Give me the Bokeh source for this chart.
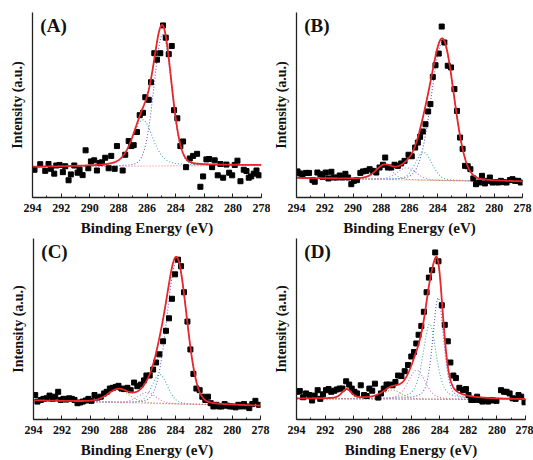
import numpy as np
from bokeh.plotting import figure
from bokeh.layouts import row, column
from bokeh.models import Range1d, SingleIntervalTicker, FixedTicker, Label
from bokeh.embed import file_html
from bokeh.resources import INLINE

# ---------------- data (binding energy in eV, intensity in a.u. 0-100) -------------
a_be = [293.86, 293.46, 293.11, 292.88, 292.72, 292.48, 292.34, 292.11, 291.88, 291.71,
        291.48, 291.32, 291.08, 290.85, 290.71, 290.50, 290.29, 290.10, 289.92, 289.69,
        289.50, 289.31, 289.15, 288.92, 288.68, 288.50, 288.26, 288.10, 287.70, 287.52,
        287.28, 287.10, 286.93, 286.70, 286.51, 286.28, 286.12, 285.88, 285.72, 285.49,
        285.30, 285.07, 284.88, 284.69, 284.48, 284.27, 284.11, 283.88, 283.67, 283.48,
        283.27, 283.01, 282.78, 282.50, 282.27, 282.08, 281.85, 281.66, 281.45, 281.27,
        281.06, 280.87, 280.68, 280.45, 280.26, 280.05, 279.87, 279.68, 279.47, 279.24,
        279.05, 278.89, 278.72, 278.54, 278.35, 278.19]
a_int = [15.0, 18.0, 14.4, 18.1, 15.5, 12.9, 17.3, 17.6, 13.7, 16.9,
         9.3, 12.5, 17.3, 13.4, 15.1, 12.1, 25.5, 15.8, 19.5, 20.1,
         14.6, 18.7, 19.0, 21.5, 15.8, 22.5, 15.5, 27.8, 14.6, 23.1,
         30.5, 27.8, 28.3, 35.4, 44.5, 45.8, 54.2, 52.8, 62.3, 78.0,
         74.5, 78.0, 93.0, 86.4, 77.5, 81.9, 47.2, 42.8, 27.8, 30.3,
         16.4, 21.1, 22.5, 23.6, 5.8, 11.4, 20.6, 20.8, 16.4, 20.1,
         12.0, 18.1, 10.7, 17.8, 13.4, 12.0, 17.6, 19.9, 8.8, 15.0,
         14.3, 10.7, 11.4, 12.9, 14.6, 12.0]

b_be = [293.93, 293.76, 293.58, 293.34, 293.11, 292.87, 292.71, 292.52, 292.31, 292.16,
        291.93, 291.74, 291.53, 291.36, 291.13, 290.94, 290.75, 290.54, 290.35, 290.12,
        289.93, 289.72, 289.48, 289.29, 289.06, 288.82, 288.59, 288.35, 288.12, 287.88,
        287.72, 287.53, 287.29, 287.06, 286.82, 286.59, 286.35, 286.07, 285.84, 285.60,
        285.41, 285.25, 285.06, 284.87, 284.68, 284.52, 284.35, 284.16, 283.93, 283.72,
        283.53, 283.29, 283.06, 282.82, 282.64, 282.42, 282.24, 282.07, 281.88, 281.69,
        281.48, 281.29, 281.06, 280.87, 280.66, 280.47, 280.31, 280.12, 279.93, 279.72,
        279.53, 279.34, 279.13, 278.89, 278.71, 278.52, 278.31, 278.12]
b_int = [14.1, 13.0, 11.9, 13.3, 13.3, 9.4, 8.5, 13.5, 12.6, 11.2,
         13.5, 10.3, 13.9, 10.8, 10.8, 11.9, 10.8, 12.8, 10.8, 7.2,
         9.0, 9.4, 13.3, 14.1, 14.4, 15.3, 14.4, 13.5, 16.2, 17.7,
         21.6, 16.2, 16.2, 17.7, 17.1, 18.4, 19.8, 23.1, 22.3, 27.0,
         29.7, 32.8, 35.7, 39.6, 46.5, 50.5, 65.2, 71.5, 77.8, 92.4,
         83.8, 71.2, 70.3, 58.6, 46.8, 32.4, 26.3, 17.1, 16.9, 15.3,
         10.3, 7.2, 8.1, 11.7, 7.6, 9.0, 10.8, 8.1, 8.3, 8.1,
         9.0, 8.3, 8.1, 9.4, 9.9, 9.0, 9.0, 8.1]

c_be = [293.88, 293.72, 293.48, 293.30, 293.08, 292.87, 292.66, 292.47, 292.26, 292.08,
        291.89, 291.68, 291.49, 291.30, 291.11, 290.90, 290.71, 290.53, 290.31, 290.13,
        289.92, 289.70, 289.49, 289.26, 289.02, 288.84, 288.62, 288.41, 288.20, 288.01,
        287.80, 287.62, 287.38, 287.15, 286.91, 286.68, 286.44, 286.21, 286.04, 285.81,
        285.57, 285.36, 285.13, 284.87, 284.66, 284.45, 284.24, 284.02, 283.81, 283.60,
        283.39, 283.15, 282.94, 282.73, 282.52, 282.29, 282.10, 281.89, 281.70, 281.51,
        281.32, 281.11, 280.92, 280.74, 280.53, 280.34, 280.15, 279.94, 279.75, 279.56,
        279.35, 279.16, 278.98, 278.79, 278.58, 278.36, 278.10]
c_int = [13.5, 9.9, 10.8, 11.4, 11.7, 13.2, 11.4, 12.6, 15.3, 10.8,
         11.4, 11.0, 11.7, 11.4, 10.8, 9.0, 9.4, 9.9, 10.5, 11.4,
         10.3, 13.5, 12.1, 12.6, 14.4, 15.3, 17.1, 17.5, 18.0, 18.6,
         17.1, 16.8, 17.5, 16.2, 20.4, 18.4, 19.3, 21.6, 24.3, 24.3,
         27.6, 31.5, 36.0, 43.2, 49.0, 55.9, 66.7, 80.2, 88.3, 84.7,
         70.3, 54.1, 38.7, 25.2, 17.1, 16.2, 12.6, 10.8, 12.6, 9.0,
         7.2, 8.1, 7.2, 7.2, 8.5, 7.6, 7.2, 7.2, 6.7, 8.1,
         7.2, 8.5, 7.2, 6.3, 8.5, 10.3, 8.1]

d_be = [293.95, 293.77, 293.54, 293.33, 293.10, 292.91, 292.73, 292.52, 292.34, 292.15,
        291.94, 291.76, 291.57, 291.36, 291.18, 290.99, 290.79, 290.53, 290.32, 290.14,
        289.95, 289.77, 289.51, 289.28, 289.10, 288.91, 288.71, 288.52, 288.29, 288.10,
        287.90, 287.71, 287.48, 287.29, 287.09, 286.90, 286.67, 286.44, 286.21, 285.98,
        285.79, 285.63, 285.47, 285.28, 285.10, 284.91, 284.75, 284.52, 284.31, 284.08,
        283.85, 283.64, 283.43, 283.25, 283.04, 282.86, 282.62, 282.37, 282.16, 281.98,
        281.79, 281.58, 281.38, 281.21, 281.01, 280.82, 280.61, 280.43, 280.24, 280.03,
        279.71, 279.50, 279.32, 279.11, 278.90, 278.69, 278.49, 278.30, 278.07]
d_int = [15.3, 15.7, 12.3, 14.4, 13.5, 10.5, 13.2, 16.2, 11.4, 13.9,
         16.2, 16.8, 15.3, 15.9, 16.6, 17.1, 17.1, 21.1, 19.3, 17.1,
         15.3, 14.4, 18.9, 13.5, 13.0, 17.1, 15.9, 19.8, 12.1, 14.4,
         17.1, 19.3, 19.3, 18.9, 20.7, 24.3, 24.0, 26.7, 30.1, 34.8,
         37.3, 42.0, 46.8, 51.7, 59.5, 70.3, 78.4, 82.5, 92.3, 87.4,
         63.1, 52.3, 43.2, 31.5, 24.3, 22.9, 17.5, 16.2, 16.8, 13.5,
         10.8, 10.8, 12.6, 10.8, 9.9, 10.3, 9.9, 10.8, 10.5, 10.3,
         16.2, 15.3, 15.3, 14.4, 11.7, 11.4, 13.5, 12.6, 9.5]

# fitted peak components: centre (eV), height, FWHM (eV), Lorentz fraction
a_peaks = dict(center=[284.9, 286.3], height=[71, 25], fwhm=[1.45, 1.7], lor=[0.1, 0.4])
b_peaks = dict(center=[283.65, 285.0, 286.2, 287.8], height=[75, 15, 6.5, 7], fwhm=[1.9, 1.4, 1.6, 1.4], lor=[0.1, 0.2, 0.2, 0.2])
c_peaks = dict(center=[283.9, 285.1, 286.0, 288.0], height=[79, 16, 6, 7], fwhm=[1.65, 1.3, 1.5, 1.8], lor=[0.1, 0.2, 0.2, 0.2])
d_peaks = dict(center=[284.1, 284.7, 285.6, 287.3, 290.5], height=[56, 41.5, 16, 5, 5], fwhm=[0.9, 1.1, 1.4, 1.5, 0.8], lor=[0.4, 0.5, 0.3, 0.3, 0.3])
# linear background (value at 294 eV, value at 278 eV)
a_bg = [16.5, 17.5]
b_bg = [10.5, 8.5]
c_bg = [10.5, 7.5]
d_bg = [11.5, 11.0]

panel_labels = ["(A)", "(B)", "(C)", "(D)"]
x_tick_interval = 2

comp_colors = ["#5b5bd0", "#3fb0b0", "#d26ed2", "#9c9c3a", "#9a7fb0"]
bg_color = "#f07a7a"
fit_color = "#e8262b"
FONT = "Liberation Serif, serif"

def pv(x, c, h, w, eta):
    t = (x - c) / w
    g = np.exp(-4 * np.log(2) * t * t)
    l = 1.0 / (1.0 + 4 * t * t)
    return h * (eta * l + (1 - eta) * g)

def make_panel(be, inten, peaks, bg, label, width, height, mb_left, mb_top, mb_bottom, mb_right):
    p = figure(width=width, height=height, output_backend="svg", toolbar_location=None,
               x_range=Range1d(294, 278), y_range=Range1d(0, 100),
               min_border_left=mb_left, min_border_right=mb_right,
               min_border_top=mb_top, min_border_bottom=mb_bottom)
    p.outline_line_color = None
    p.grid.visible = False
    p.background_fill_color = "white"
    p.border_fill_color = "white"

    xs = np.linspace(294, 278, 641)
    base = bg[0] + (bg[1] - bg[0]) * (294 - xs) / 16.0
    total = base.copy()
    for i, (c, h, w, e) in enumerate(zip(peaks["center"], peaks["height"], peaks["fwhm"], peaks["lor"])):
        comp = pv(xs, c, h, w, e)
        total += comp
        p.line(xs, base + comp, line_color=comp_colors[i], line_width=1.1, line_dash="1 2")
    p.line([294, 278], bg, line_color=bg_color, line_width=1.1, line_dash="1 2")
    p.scatter(be, inten, marker="square", size=5, color="black")
    p.line(xs, total, line_color=fit_color, line_width=1.8)

    xa = p.xaxis[0]
    xa.ticker = SingleIntervalTicker(interval=x_tick_interval, num_minor_ticks=2)
    xa.axis_label = "Binding Energy (eV)"
    ya = p.yaxis[0]
    ya.ticker = FixedTicker(ticks=[], minor_ticks=[])
    ya.axis_label = "Intensity (a.u.)"
    for ax in (xa, ya):
        ax.axis_line_width = 1.3
        ax.axis_line_color = "#222222"
        ax.major_tick_in = 4
        ax.major_tick_out = 0
        ax.minor_tick_in = 2
        ax.minor_tick_out = 0
        ax.major_tick_line_color = "#222222"
        ax.minor_tick_line_color = "#222222"
        ax.major_label_text_font = FONT
        ax.major_label_text_font_style = "bold"
        ax.major_label_text_font_size = "12px"
        ax.major_label_text_color = "#111111"
        ax.major_label_standoff = 6
        ax.axis_label_text_font = FONT
        ax.axis_label_text_font_style = "bold"
        ax.axis_label_text_color = "#111111"
    xa.axis_label_text_font_size = "15px"
    xa.axis_label_standoff = 5
    ya.axis_label_text_font_size = "14px"
    ya.axis_label_standoff = 8

    p.add_layout(Label(x=293.45, y=93, text=label, text_font=FONT, text_font_style="bold",
                       text_font_size="19px", text_baseline="middle", text_align="left",
                       text_color="#111111"))
    return p

pa = make_panel(a_be, a_int, a_peaks, a_bg, panel_labels[0], 270, 238, 32, 10, 40, 9)
pb = make_panel(b_be, b_int, b_peaks, b_bg, panel_labels[1], 263, 238, 25, 12, 40, 11)
pc = make_panel(c_be, c_int, c_peaks, c_bg, panel_labels[2], 270, 222, 33, 0, 38, 10)
pd = make_panel(d_be, d_int, d_peaks, d_bg, panel_labels[3], 263, 222, 26, 0, 38, 8)

layout = column(row(pa, pb), row(pc, pd))
open("out.html", "w").write(file_html(layout, INLINE))
